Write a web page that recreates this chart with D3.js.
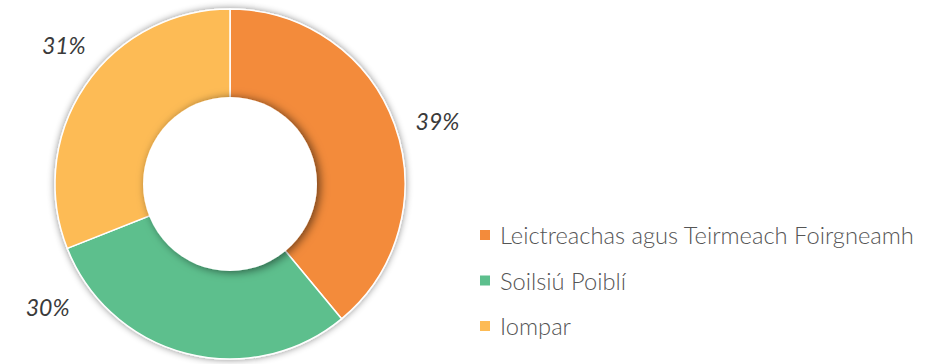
<!DOCTYPE html>
<html>
<head>
<meta charset="utf-8">
<script src="https://cdn.jsdelivr.net/npm/d3@7/dist/d3.min.js"></script>
<style>
  html, body { margin: 0; padding: 0; background: #ffffff; }
  svg { display: block; }
</style>
</head>
<body>
<svg id="chart" width="934" height="364"></svg>
<script>
// Share of energy use by category
const categories = ["Leictreachas agus Teirmeach Foirgneamh", "Soilsiú Poiblí", "Iompar"];
const shares = [39, 30, 31];
const colors = ["#F38B3B", "#5DBF8D", "#FDBB55"];

const width = 934, height = 364;
const cx = 230, cy = 184;
const outerR = 175, innerR = 87;

// Label placement: angle (degrees clockwise from 12 o'clock) and radius for each slice label
const labelPolar = [
  { angle: 73, r: 217 },
  { angle: 236, r: 220 },
  { angle: 310, r: 217 }
];

const svg = d3.select("#chart");
const defs = svg.append("defs");

const outerShadow = defs.append("filter").attr("id", "outerShadow")
  .attr("x", "-20%").attr("y", "-20%").attr("width", "140%").attr("height", "140%");
outerShadow.append("feDropShadow")
  .attr("dx", 0).attr("dy", 0).attr("stdDeviation", 3.5)
  .attr("flood-color", "#000").attr("flood-opacity", 0.45);

const holeShadow = defs.append("filter").attr("id", "holeShadow")
  .attr("x", "-30%").attr("y", "-30%").attr("width", "160%").attr("height", "160%");
holeShadow.append("feDropShadow")
  .attr("dx", 3).attr("dy", 1).attr("stdDeviation", 5)
  .attr("flood-color", "#000").attr("flood-opacity", 0.55);

const pie = d3.pie().sort(null).value(d => d.value);
const data = categories.map((c, i) => ({ name: c, value: shares[i], color: colors[i] }));
const arcs = pie(data);

const arc = d3.arc().innerRadius(0).outerRadius(outerR);

const g = svg.append("g").attr("transform", `translate(${cx},${cy})`);

// Slices (drawn as full wedges; the white hole sits on top)
const slices = g.append("g").attr("filter", "url(#outerShadow)");
slices.selectAll("path")
  .data(arcs)
  .join("path")
  .attr("d", arc)
  .attr("fill", d => d.data.color)
  .attr("stroke", "#ffffff")
  .attr("stroke-width", 1.5)
  .attr("stroke-linejoin", "round");

// Donut hole with its soft shadow
g.append("circle")
  .attr("r", innerR)
  .attr("fill", "#ffffff")
  .attr("filter", "url(#holeShadow)");

// Percent labels
const rad = Math.PI / 180;
g.selectAll("text.pct")
  .data(arcs)
  .join("text")
  .attr("class", "pct")
  .attr("x", (d, i) => labelPolar[i].r * Math.sin(labelPolar[i].angle * rad))
  .attr("y", (d, i) => -labelPolar[i].r * Math.cos(labelPolar[i].angle * rad))
  .attr("text-anchor", "middle")
  .attr("dominant-baseline", "central")
  .attr("font-family", "Lato, 'Open Sans', sans-serif")
  .attr("font-style", "italic")
  .attr("font-weight", 400)
  .attr("font-size", 23)
  .attr("fill", "#3a3a3a")
  .text(d => d.data.value + "%");

// Legend
const legend = svg.append("g").attr("transform", "translate(480,230)");
const item = legend.selectAll("g")
  .data(data)
  .join("g")
  .attr("transform", (d, i) => `translate(0,${i * 45.5})`);
item.append("rect")
  .attr("width", 10).attr("height", 10)
  .attr("fill", d => d.color);
item.append("text")
  .attr("x", 20).attr("y", 5)
  .attr("dominant-baseline", "central")
  .attr("font-family", "Lato, 'Open Sans', sans-serif")
  .attr("font-weight", 300)
  .attr("font-size", 23.7)
  .attr("fill", "#555555")
  .text(d => d.name);
</script>
</body>
</html>
